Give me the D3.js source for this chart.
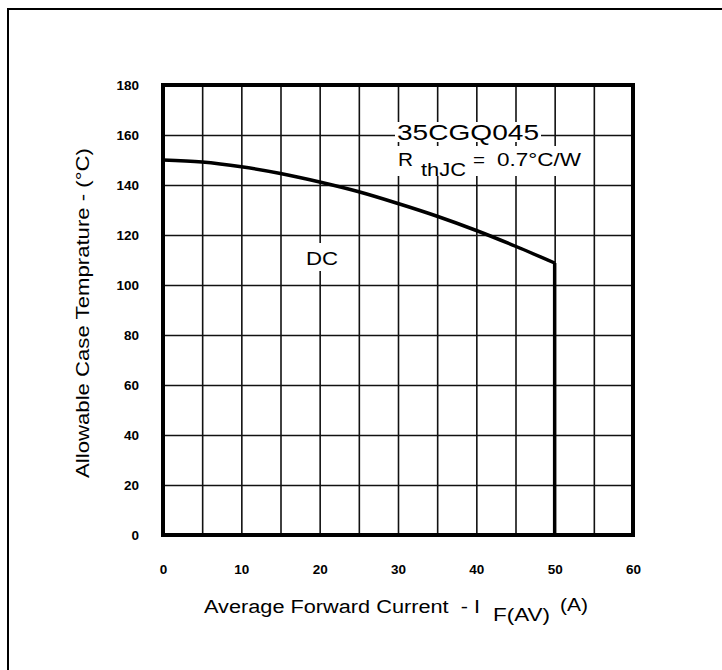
<!DOCTYPE html>
<html lang="en">
  <head>
    <meta charset="utf-8">
    <title>35CGQ045 Case Temperature</title>
    <script src="https://d3js.org/d3.v7.min.js"></script>
    <style>
      body { margin: 0; background: white; }
      text { font-family: "Liberation Sans", Arial, sans-serif; fill: black; }
      .tick text { font-weight: bold; font-size: 13.5px; }
    </style>
  </head>
  <body>
    <svg width="722" height="670"></svg>
    <script>
      // values
      var current = [0, 5, 10, 15, 20, 25, 30, 35, 40, 45, 50];
      var caseTemp = [150, 149.2, 147.3, 144.6, 141.2, 137.3, 132.6, 127.5, 121.8, 115.5, 108.8];
      var xTicks = [0, 10, 20, 30, 40, 50, 60];
      var yTicks = [0, 20, 40, 60, 80, 100, 120, 140, 160, 180];

      var svg = d3.select("svg");
      var plotL = 163, plotR = 633, plotT = 85, plotB = 535;
      var x = d3.scaleLinear().domain([0, 60]).range([plotL, plotR]);
      var y = d3.scaleLinear().domain([0, 180]).range([plotB, plotT]);

      // outer frame (only top and left show in the crop)
      svg.append("path").attr("d", "M8,670 V9 H722")
        .attr("fill", "none").attr("stroke", "black").attr("stroke-width", 2);

      // grid
      svg.append("g").attr("transform", "translate(0," + plotB + ")")
        .call(d3.axisBottom(x).tickValues(d3.range(0, 61, 5)).tickSize(-(plotB - plotT)).tickFormat(""))
        .call(function(g) { g.select(".domain").remove(); })
        .selectAll("line").attr("stroke", "#111").attr("stroke-width", 1.6);
      svg.append("g").attr("transform", "translate(" + plotL + ",0)")
        .call(d3.axisLeft(y).tickValues(d3.range(0, 181, 20)).tickSize(-(plotR - plotL)).tickFormat(""))
        .call(function(g) { g.select(".domain").remove(); })
        .selectAll("line").attr("stroke", "#111").attr("stroke-width", 1.6);

      // tick labels
      svg.append("g").attr("transform", "translate(0," + (plotB + 26) + ")")
        .call(d3.axisBottom(x).tickValues(xTicks).tickSize(0).tickFormat(d3.format("d")))
        .call(function(g) { g.select(".domain").remove(); });
      svg.append("g").attr("transform", "translate(" + (plotL - 21) + ",0)")
        .call(d3.axisLeft(y).tickValues(yTicks).tickSize(0).tickFormat(d3.format("d")))
        .call(function(g) { g.select(".domain").remove(); });
      svg.selectAll(".tick text").attr("fill", "black");

      // white boxes behind the labels
      function box(x0, y0, w, h) {
        svg.append("rect").attr("x", x0).attr("y", y0).attr("width", w).attr("height", h).attr("fill", "white");
      }
      box(395, 122, 146, 20);
      box(395, 146, 190, 30);
      box(305, 243, 36, 28);

      // curve and the 50 A limit
      var line = d3.line().x(function(d, i) { return x(current[i]); })
        .y(function(d) { return y(d); }).curve(d3.curveMonotoneX);
      svg.append("path").datum(caseTemp).attr("d", line)
        .attr("fill", "none").attr("stroke", "black").attr("stroke-width", 3.5);
      svg.append("line")
        .attr("x1", x(50)).attr("x2", x(50))
        .attr("y1", y(caseTemp[caseTemp.length - 1])).attr("y2", y(0))
        .attr("stroke", "black").attr("stroke-width", 3.5);

      // border
      svg.append("rect").attr("x", plotL).attr("y", plotT)
        .attr("width", plotR - plotL).attr("height", plotB - plotT)
        .attr("fill", "none").attr("stroke", "black").attr("stroke-width", 4);

      // annotations
      function label(t, px, py, size, len, anchor) {
        var el = svg.append("text").attr("x", px).attr("y", py)
          .attr("font-size", size).text(t);
        if (len) el.attr("textLength", len).attr("lengthAdjust", "spacingAndGlyphs");
        if (anchor) el.attr("text-anchor", anchor);
        return el;
      }
      label("35CGQ045", 397, 140, 22, 142);
      label("R", 398, 166, 18, 15);
      label("thJC", 421, 176, 18, 45);
      label("=", 473, 166, 18, 12);
      label("0.7°C/W", 497, 166, 18, 84);
      label("DC", 306, 265, 18, 32);

      // axis titles
      label("Average Forward Current\u00a0\u00a0- I", 204, 613, 18, 276);
      label("F(AV)", 493, 621, 18, 57);
      label("(A)", 560, 611, 18, 28);
      label("Allowable Case Temprature - (°C)", 0, 0, 18, 330, "middle")
        .attr("transform", "translate(89,313) rotate(-90)");
    </script>
  </body>
</html>
